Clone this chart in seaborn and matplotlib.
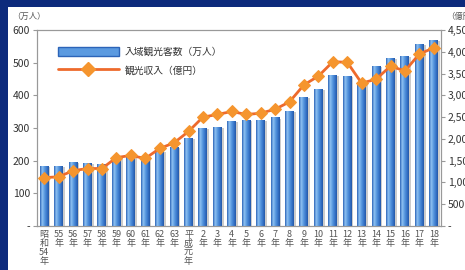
import numpy as np
import pandas as pd
import seaborn as sns
import matplotlib.pyplot as plt
from matplotlib.colors import LinearSegmentedColormap
from matplotlib.patches import Patch, Rectangle
from matplotlib.lines import Line2D

# 年次ラベル（縦書き）
years = ["昭\n和\n54\n年", "55\n年", "56\n年", "57\n年", "58\n年", "59\n年", "60\n年",
         "61\n年", "62\n年", "63\n年", "平\n成\n元\n年", "2\n年", "3\n年", "4\n年",
         "5\n年", "6\n年", "7\n年", "8\n年", "9\n年", "10\n年", "11\n年", "12\n年",
         "13\n年", "14\n年", "15\n年", "16\n年", "17\n年", "18\n年"]
# 入域観光客数（万人）
visitors = [182, 182, 195, 192, 189, 210, 212, 207, 229, 241, 269, 300, 303, 319,
            322, 322, 331, 350, 393, 418, 461, 458, 434, 489, 513, 520, 555, 569]
# 観光収入（億円）
revenue = [1110, 1130, 1270, 1320, 1320, 1570, 1620, 1550, 1780, 1910, 2170, 2500,
           2560, 2630, 2560, 2590, 2680, 2850, 3240, 3440, 3770, 3760, 3280, 3370,
           3670, 3560, 3950, 4090]

left_ticks = [0, 100, 200, 300, 400, 500, 600]
left_labels = ["-", "100", "200", "300", "400", "500", "600"]
right_ticks = [0, 500, 1000, 1500, 2000, 2500, 3000, 3500, 4000, 4500]
right_labels = ["-", "500", "1,000", "1,500", "2,000", "2,500", "3,000", "3,500", "4,000", "4,500"]

sns.set_style("white")
plt.rcParams['font.family'] = ['Noto Sans CJK JP', 'DejaVu Sans']

df = pd.DataFrame({"year": years, "visitors": visitors, "revenue": revenue,
                   "pos": np.arange(len(years))})

fig = plt.figure(figsize=(4.65, 2.7), dpi=100, facecolor='#0d2a7c')
# 白い台紙
fig.patches.append(Rectangle((8 / 465, 0), 1, 1 - 7 / 270, transform=fig.transFigure,
                             facecolor='white', edgecolor='none', zorder=-5))
ax = fig.add_axes([37 / 465, 1 - 226 / 270, 404 / 465, 196 / 270])
ax.set_facecolor('white')

sns.barplot(data=df, x="year", y="visitors", ax=ax, color='#4a8ad8', width=0.62,
            saturation=1, edgecolor='none', zorder=2)

# 棒のグラデーションと影
grad_cmap = LinearSegmentedColormap.from_list(
    "bar", ['#2c64b8', '#8fc2f2', '#5b9ae0', '#3a78cc', '#2458a8'])
grad = np.linspace(0, 1, 64).reshape(1, -1)
for p in list(ax.patches):
    x0, y0 = p.get_x(), p.get_y()
    w, h = p.get_width(), p.get_height()
    ax.add_patch(Rectangle((x0 + 0.12, y0), w, h - 2, facecolor='#cccccc',
                           edgecolor='none', zorder=1))
    ax.imshow(grad, extent=[x0, x0 + w, y0, y0 + h], aspect='auto', cmap=grad_cmap,
              zorder=3)

ax.set_xlim(-0.5, 27.5)
ax.set_ylim(0, 600)
ax.set_yticks(left_ticks)
ax.set_yticklabels(left_labels, fontsize=7.5, color='#333333')
ax.tick_params(axis='x', labelsize=6.5, colors='#555555', length=0, pad=3)
for t in ax.get_xticklabels():
    t.set_linespacing(1.0)
    t.set_verticalalignment('top')
ax.tick_params(axis='y', length=3, color='#999999', pad=2)
ax.set_xlabel("")
ax.set_ylabel("")
for s in ax.spines.values():
    s.set_color('#999999')
    s.set_linewidth(0.8)

ax2 = ax.twinx()
sns.lineplot(data=df, x="pos", y="revenue", ax=ax2, color='#ee6a2c', linewidth=2,
             marker='D', markersize=6.5, markerfacecolor='#f5952e',
             markeredgecolor='#f5952e', zorder=5)
ax2.set_ylim(0, 4500)
ax2.set_yticks(right_ticks)
ax2.set_yticklabels(right_labels, fontsize=7.5, color='#333333')
ax2.tick_params(axis='y', length=3, color='#999999', pad=2)
ax2.set_ylabel("")
ax2.set_xlabel("")
for s in ax2.spines.values():
    s.set_color('#999999')
    s.set_linewidth(0.8)

fig.text(12 / 465, 1 - 16 / 270, "（万人）", fontsize=6, color='#555555', va='center')
fig.text(446 / 465, 1 - 16 / 270, "（億円）", fontsize=6, color='#555555', va='center')

handles = [Patch(facecolor='#5b9ae0', edgecolor='#2c64b8'),
           Line2D([0], [0], color='#ee6a2c', linewidth=2, marker='D', markersize=7,
                  markerfacecolor='#f5952e', markeredgecolor='#f5952e')]
ax2.legend(handles, ["入域観光客数（万人）", "観光収入（億円）"], loc='upper left',
           bbox_to_anchor=(0.03, 0.96), frameon=False, fontsize=7, handlelength=6.3,
           handleheight=1.0, labelspacing=0.9, handletextpad=0.6, labelcolor='#333333')

fig.savefig("out.png", dpi=100, facecolor=fig.get_facecolor())
